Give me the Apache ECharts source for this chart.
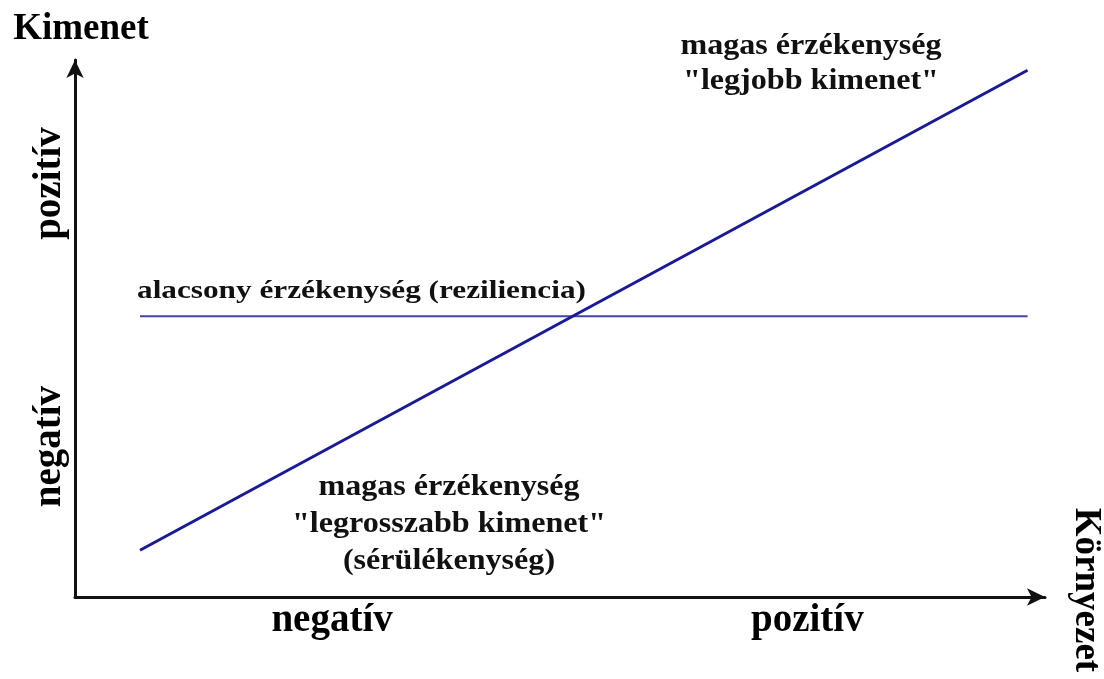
<!DOCTYPE html>
<html>
<head>
<meta charset="utf-8">
<title>Kimenet / Környezet</title>
<script src="https://cdn.jsdelivr.net/npm/echarts@6/dist/echarts.min.js"></script>
<style>
  html, body { margin: 0; padding: 0; background: #fff; }
  #chart { width: 1104px; height: 679px; }
</style>
</head>
<body>
<div id="chart"></div>
<script>
// adatok (tengelyek 0..100 skálán)
const xRange = [6.7, 98.2];
const highSens = [8.7, 98.1];     // magas érzékenység: meredek egyenes
const lowSens = [52.3, 52.3];     // alacsony érzékenység: vízszintes egyenes
const xLabelValues = [26.5, 75.5];
const xLabelTexts = ['negatív', 'pozitív'];
const yLabelValues = [28, 77];
const yLabelTexts = ['negatív', 'pozitív'];

const serif = "'Liberation Serif', 'Times New Roman', serif";

function toPairs(xs, ys) {
  return xs.map((x, i) => [x, ys[i]]);
}
function labelFor(values, texts) {
  return function (v) {
    const i = values.findIndex(p => Math.abs(p - v) < 0.01);
    return i >= 0 ? texts[i] : '';
  };
}

const chart = echarts.init(document.getElementById('chart'));
chart.setOption({
  animation: false,
  grid: { left: 75, right: 59, top: 60, bottom: 82, containLabel: false, outerBoundsMode: 'none' },
  xAxis: {
    type: 'value',
    min: 0,
    max: 100,
    name: 'Környezet',
    nameLocation: 'end',
    nameRotate: -90,
    nameGap: 22,
    nameTextStyle: { fontFamily: serif, fontWeight: 'bold', fontSize: 37, color: '#000', padding: [0, 14, 0, 0] },
    axisLine: { show: true, symbol: ['none', 'arrow'], symbolSize: [13, 18], lineStyle: { color: '#111', width: 3 } },
    axisTick: { show: false },
    splitLine: { show: false },
    axisLabel: {
      customValues: xLabelValues,
      formatter: labelFor(xLabelValues, xLabelTexts),
      margin: 4,
      fontFamily: serif, fontWeight: 'bold', fontSize: 39, color: '#000'
    }
  },
  yAxis: {
    type: 'value',
    min: 0,
    max: 100,
    name: 'Kimenet',
    nameLocation: 'end',
    nameGap: 12,
    nameTextStyle: { fontFamily: serif, fontWeight: 'bold', fontSize: 37, color: '#000', align: 'center', padding: [0, 0, 0, 12] },
    axisLine: { show: true, symbol: ['none', 'arrow'], symbolSize: [13, 18], lineStyle: { color: '#111', width: 3 } },
    axisTick: { show: false },
    splitLine: { show: false },
    axisLabel: {
      customValues: yLabelValues,
      formatter: labelFor(yLabelValues, yLabelTexts),
      rotate: 90,
      margin: 6,
      fontFamily: serif, fontWeight: 'bold', fontSize: 39, color: '#000'
    }
  },
  series: [
    {
      name: 'alacsony érzékenység',
      type: 'line',
      data: toPairs(xRange, lowSens),
      symbol: 'none',
      lineStyle: { color: '#4444a4', width: 2 }
    },
    {
      name: 'magas érzékenység',
      type: 'line',
      data: toPairs(xRange, highSens),
      symbol: 'none',
      lineStyle: { color: '#1a1a96', width: 3 }
    }
  ],
  graphic: [
    {
      type: 'text', x: 137, y: 279, scaleX: 1.25,
      style: { text: 'alacsony érzékenység (reziliencia)', font: 'bold 25px ' + serif, fill: '#111', align: 'left', verticalAlign: 'top' }
    },
    {
      type: 'text', x: 811, y: 29, scaleX: 1.07,
      style: { text: 'magas érzékenység\n"legjobb kimenet"', font: 'bold 30px ' + serif, fill: '#111', align: 'center', verticalAlign: 'top', lineHeight: 35 }
    },
    {
      type: 'text', x: 449, y: 469, scaleX: 1.07,
      style: { text: 'magas érzékenység\n"legrosszabb kimenet"\n(sérülékenység)', font: 'bold 30px ' + serif, fill: '#111', align: 'center', verticalAlign: 'top', lineHeight: 37 }
    }
  ]
});
</script>
</body>
</html>
